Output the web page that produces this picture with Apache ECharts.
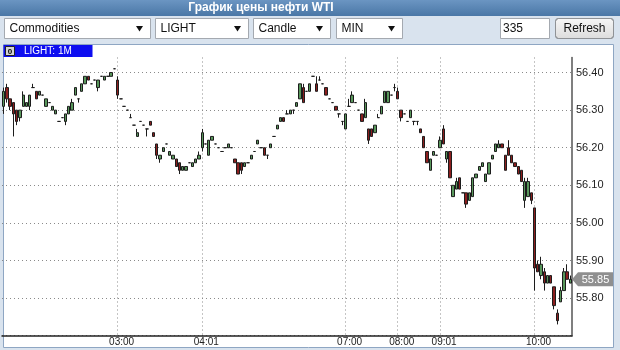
<!DOCTYPE html>
<html><head><meta charset="utf-8">
<script src="https://cdn.jsdelivr.net/npm/echarts@6/dist/echarts.min.js"></script>
<style>html,body{margin:0;padding:0;background:#d9e3ee}#c{width:620px;height:350px}</style>
</head><body><div id="c"></div>
<script>
// Time labels shown on the x axis (first bar of each segment below)
const timeLabels = ['03:00','04:01','07:00','08:00','09:01','10:00'];
// OHLC bars: [open, close, low, high]
const barsBefore = [
[56.31,56.35,56.29,56.36],[56.36,56.33,56.32,56.37],[56.33,56.31,56.30,56.33],[56.32,56.29,56.23,56.32],
[56.30,56.27,56.26,56.30],[56.28,56.30,56.27,56.30],[56.31,56.34,56.31,56.35],[56.31,56.32,56.31,56.32],
[56.31,56.34,56.30,56.34],[56.36,56.36,56.36,56.37],[56.35,56.33,56.33,56.35],[56.34,56.35,56.34,56.35],
[56.34,56.34,56.34,56.34],[56.31,56.33,56.31,56.33],[56.32,56.32,56.32,56.32],[56.30,56.31,56.30,56.31],
[56.29,56.30,56.29,56.30],[56.27,56.27,56.27,56.27],[56.28,56.28,56.28,56.28],[56.27,56.29,56.26,56.29],
[56.29,56.31,56.29,56.31],[56.30,56.32,56.30,56.33],[56.34,56.36,56.34,56.36],[56.33,56.33,56.32,56.33],
[56.35,56.37,56.35,56.37],[56.37,56.39,56.37,56.39],[56.39,56.38,56.38,56.39],[56.37,56.37,56.37,56.37],
[56.38,56.38,56.38,56.38],[56.36,56.38,56.35,56.38],[56.39,56.39,56.39,56.39],[56.38,56.39,56.38,56.39],
[56.39,56.39,56.39,56.39],[56.39,56.40,56.39,56.40],[56.41,56.41,56.41,56.41]
];
const bars0300 = [
[56.38,56.34,56.33,56.39],[56.33,56.33,56.33,56.33],[56.31,56.31,56.31,56.31],[56.30,56.30,56.30,56.30],
[56.28,56.28,56.28,56.29],[56.26,56.26,56.26,56.26],[56.23,56.24,56.23,56.25],[56.27,56.27,56.27,56.27],
[56.26,56.26,56.26,56.26],[56.25,56.25,56.23,56.25],[56.27,56.26,56.26,56.27],[56.24,56.23,56.23,56.24],
[56.21,56.18,56.17,56.21],[56.17,56.18,56.16,56.18],[56.19,56.20,56.19,56.20],[56.21,56.21,56.21,56.21],
[56.18,56.19,56.18,56.19],[56.17,56.18,56.17,56.18],[56.17,56.15,56.15,56.17],[56.16,56.14,56.13,56.16],
[56.14,56.15,56.14,56.15],[56.14,56.15,56.14,56.15],[56.16,56.16,56.16,56.16],[56.15,56.16,56.15,56.16],
[56.16,56.17,56.16,56.17],[56.17,56.18,56.17,56.19]
];
const bars0401 = [
[56.20,56.24,56.19,56.25],[56.21,56.21,56.21,56.21],[56.18,56.22,56.18,56.22],[56.22,56.23,56.22,56.23],
[56.21,56.21,56.21,56.21],[56.20,56.20,56.20,56.20],[56.19,56.19,56.19,56.19],[56.20,56.20,56.20,56.20],
[56.20,56.21,56.20,56.21],[56.20,56.20,56.20,56.20],[56.17,56.16,56.16,56.17],[56.16,56.13,56.13,56.16],
[56.16,56.14,56.13,56.16],[56.15,56.16,56.15,56.16],[56.16,56.16,56.16,56.16],[56.17,56.18,56.17,56.18],
[56.19,56.19,56.19,56.19],[56.21,56.22,56.21,56.22],[56.20,56.20,56.20,56.20],[56.20,56.18,56.18,56.20],
[56.18,56.18,56.17,56.18],[56.20,56.21,56.20,56.21],[56.23,56.23,56.23,56.23],[56.25,56.26,56.25,56.26],
[56.27,56.28,56.27,56.28],[56.28,56.27,56.27,56.28],[56.29,56.29,56.29,56.30],[56.29,56.30,56.29,56.30],
[56.30,56.30,56.29,56.30],[56.31,56.32,56.31,56.32],[56.33,56.37,56.33,56.37],[56.36,56.32,56.32,56.37],
[56.35,56.35,56.35,56.35],[56.35,56.37,56.35,56.37],[56.39,56.39,56.39,56.39],[56.37,56.35,56.35,56.39],
[56.38,56.38,56.38,56.39],[56.37,56.37,56.37,56.37],[56.36,56.34,56.34,56.36],[56.33,56.33,56.33,56.33],
[56.32,56.32,56.32,56.32],[56.31,56.30,56.30,56.31],[56.29,56.29,56.28,56.29],[56.27,56.27,56.26,56.27]
];
const bars0700 = [
[56.25,56.29,56.25,56.29],[56.31,56.31,56.31,56.33],[56.32,56.34,56.32,56.35],[56.32,56.32,56.32,56.32],
[56.30,56.30,56.30,56.30],[56.29,56.27,56.27,56.29],[56.28,56.32,56.28,56.33],[56.25,56.22,56.21,56.25],
[56.25,56.23,56.23,56.25],[56.24,56.26,56.24,56.26],[56.28,56.28,56.28,56.29],[56.29,56.31,56.29,56.31],
[56.32,56.35,56.32,56.35],[56.32,56.35,56.32,56.35],[56.34,56.34,56.34,56.34],[56.36,56.36,56.35,56.37]
];
const bars0800 = [
[56.35,56.33,56.33,56.36],[56.30,56.28,56.27,56.30],[56.29,56.29,56.29,56.29],[56.27,56.27,56.27,56.27],
[56.28,56.30,56.28,56.30],[56.27,56.27,56.26,56.27],[56.27,56.27,56.26,56.27],[56.25,56.24,56.24,56.25],
[56.23,56.20,56.20,56.23],[56.19,56.16,56.16,56.19],[56.14,56.17,56.14,56.17],[56.18,56.19,56.18,56.19],
[56.18,56.18,56.18,56.18]
];
const bars0901 = [
[56.20,56.22,56.20,56.23],[56.25,56.21,56.21,56.26],[56.17,56.19,56.16,56.19],[56.19,56.12,56.12,56.19],
[56.07,56.10,56.07,56.10],[56.09,56.11,56.09,56.12],[56.12,56.09,56.09,56.12],[56.08,56.08,56.08,56.08],
[56.08,56.05,56.04,56.08],[56.06,56.08,56.06,56.08],[56.07,56.12,56.07,56.12],[56.12,56.13,56.12,56.13],
[56.14,56.15,56.14,56.15],[56.15,56.16,56.15,56.16],[56.11,56.13,56.11,56.13],[56.13,56.16,56.13,56.16],
[56.17,56.18,56.17,56.18],[56.19,56.21,56.19,56.21],[56.20,56.21,56.20,56.22],[56.21,56.20,56.20,56.21],
[56.18,56.14,56.14,56.18],[56.20,56.18,56.18,56.22],[56.18,56.16,56.16,56.18],[56.16,56.15,56.15,56.16],
[56.15,56.13,56.13,56.15],[56.14,56.11,56.11,56.14],[56.06,56.11,56.04,56.12],[56.07,56.11,56.07,56.12],
[56.08,56.06,56.05,56.08]
];
const bars1000 = [
[56.04,55.88,55.82,56.04],[55.89,55.87,55.87,55.90],[55.86,55.89,55.85,55.91],[55.87,55.84,55.82,55.88],
[55.84,55.86,55.84,55.86],[55.86,55.84,55.84,55.86],[55.83,55.78,55.77,55.83],[55.76,55.74,55.73,55.77],
[55.79,55.82,55.79,55.83],[55.82,55.87,55.82,55.88],[55.87,55.85,55.85,55.89],[55.84,55.85,55.84,55.86]
];
const priceTicks = [55.8, 55.9, 56.0, 56.1, 56.2, 56.3, 56.4];

const segments = [barsBefore, bars0300, bars0401, bars0700, bars0800, bars0901, bars1000];
const ohlc = [].concat(...segments);
const categories = [];
const labelIdx = new Set();
segments.forEach((seg, s) => seg.forEach((_, j) => {
  if (j === 0 && s > 0) { labelIdx.add(categories.length); categories.push(timeLabels[s - 1]); }
  else categories.push('#' + categories.length);
}));
const lastClose = ohlc[ohlc.length - 1][1];

const FONT = '"Liberation Sans", Arial, sans-serif';
const selects = [
  {x: 4.5, w: 146, text: 'Commodities'},
  {x: 155.5, w: 93, text: 'LIGHT'},
  {x: 253.5, w: 77, text: 'Candle'},
  {x: 336.5, w: 66, text: 'MIN'}
];
const graphics = [
  {type: 'rect', z: -10, shape: {x: 0, y: 0, width: 620, height: 16},
   style: {fill: new echarts.graphic.LinearGradient(0, 0, 0, 1, [{offset: 0, color: '#6b95c2'}, {offset: 1, color: '#4a77a6'}])}},
  {type: 'text', z: -9, x: 261, y: 8, style: {text: 'График цены нефти WTI', fill: '#fff', font: 'bold 12px ' + FONT, align: 'center', verticalAlign: 'middle'}},
  {type: 'rect', z: -10, shape: {x: 3.5, y: 44.5, width: 610, height: 303}, style: {fill: '#fff', stroke: '#8ea6c3', lineWidth: 1}}
];
selects.forEach(s => {
  graphics.push({type: 'rect', z: -9, shape: {x: s.x, y: 18.5, width: s.w, height: 20}, style: {fill: '#fff', stroke: '#a4a9b0', lineWidth: 1}});
  graphics.push({type: 'text', z: -8, x: s.x + 5, y: 28.5, style: {text: s.text, fill: '#111', font: '12px ' + FONT, align: 'left', verticalAlign: 'middle'}});
  const cx = s.x + s.w - 11;
  graphics.push({type: 'polygon', z: -8, shape: {points: [[cx - 3.5, 26], [cx + 3.5, 26], [cx, 31.5]]}, style: {fill: '#111'}});
});
graphics.push({type: 'rect', z: -9, shape: {x: 500.5, y: 18.5, width: 49, height: 20}, style: {fill: '#fff', stroke: '#a4a9b0', lineWidth: 1}});
graphics.push({type: 'text', z: -8, x: 503, y: 28.5, style: {text: '335', fill: '#111', font: '12px ' + FONT, align: 'left', verticalAlign: 'middle'}});
graphics.push({type: 'rect', z: -9, shape: {x: 555.5, y: 18.5, width: 58, height: 20, r: 3},
  style: {fill: new echarts.graphic.LinearGradient(0, 0, 0, 1, [{offset: 0, color: '#f7f7f7'}, {offset: 1, color: '#dcdcdc'}]), stroke: '#8f9296', lineWidth: 1}});
graphics.push({type: 'text', z: -8, x: 584.5, y: 28.5, style: {text: 'Refresh', fill: '#111', font: '12px ' + FONT, align: 'center', verticalAlign: 'middle'}});
// tab
graphics.push({type: 'rect', z: 50, shape: {x: 3.5, y: 45, width: 89, height: 12}, style: {fill: '#0d0df0'}});
graphics.push({type: 'rect', z: 51, shape: {x: 5.5, y: 46.5, width: 9, height: 9}, style: {fill: '#d4d4d4', stroke: '#222', lineWidth: 1}});
graphics.push({type: 'text', z: 52, x: 10, y: 51.3, style: {text: '0', fill: '#000', font: 'bold 8px ' + FONT, align: 'center', verticalAlign: 'middle'}});
graphics.push({type: 'text', z: 52, x: 24, y: 51.3, style: {text: 'LIGHT: 1M', fill: '#fff', font: '10px ' + FONT, align: 'left', verticalAlign: 'middle'}});

const chart = echarts.init(document.getElementById('c'), null, {renderer: 'canvas'});
chart.setOption({
  backgroundColor: '#d9e3ee',
  animation: false,
  grid: {left: 2, right: 48, top: 57.5, bottom: 14.3},
  xAxis: {
    type: 'category', data: categories, boundaryGap: true,
    axisLine: {lineStyle: {color: '#222', width: 1.5}},
    axisTick: {show: false},
    axisLabel: {interval: (i) => labelIdx.has(i), color: '#222', fontSize: 10, fontFamily: FONT, margin: 2, padding: [0, 0, 0, 8]},
    splitLine: {show: true, interval: (i) => labelIdx.has(i), alignWithLabel: true, lineStyle: {color: '#8a8a8a', type: [1, 3], width: 1}}
  },
  yAxis: {
    type: 'value', position: 'right', min: 55.7, max: 56.44, interval: 0.1,
    axisLine: {show: true, lineStyle: {color: '#555', width: 1.5}},
    axisTick: {show: false},
    axisLabel: {color: '#222', fontSize: 11, fontFamily: FONT, margin: 4, showMinLabel: false, showMaxLabel: false,
      formatter: (v) => priceTicks.some(t => Math.abs(t - v) < 1e-6) ? v.toFixed(2) : ''},
    splitLine: {show: true, showMaxLine: false, lineStyle: {color: '#8a8a8a', type: [1, 3], width: 1}}
  },
  series: [{
    type: 'candlestick', data: ohlc, barWidth: 2.8,
    itemStyle: {color: '#58975b', color0: '#8c1e1e', borderColor: '#1c1c1c', borderColor0: '#1c1c1c', borderColorDoji: '#1c1c1c', borderWidth: 1}
  }],
  graphic: graphics
});

// last-price tag, positioned through the y axis scale
const tagY = chart.convertToPixel({yAxisIndex: 0}, lastClose);
const tagX = chart.convertToPixel({xAxisIndex: 0}, ohlc.length - 1);
chart.setOption({graphic: graphics.concat([
  {type: 'polygon', z: 60, shape: {points: [[572, tagY], [578, tagY - 7], [613, tagY - 7], [613, tagY + 7], [578, tagY + 7]]}, style: {fill: '#8f8f8f'}},
  {type: 'text', z: 61, x: 595.5, y: tagY + 0.5, style: {text: lastClose.toFixed(2), fill: '#fff', font: '11px ' + FONT, align: 'center', verticalAlign: 'middle'}}
])});
</script></body></html>
